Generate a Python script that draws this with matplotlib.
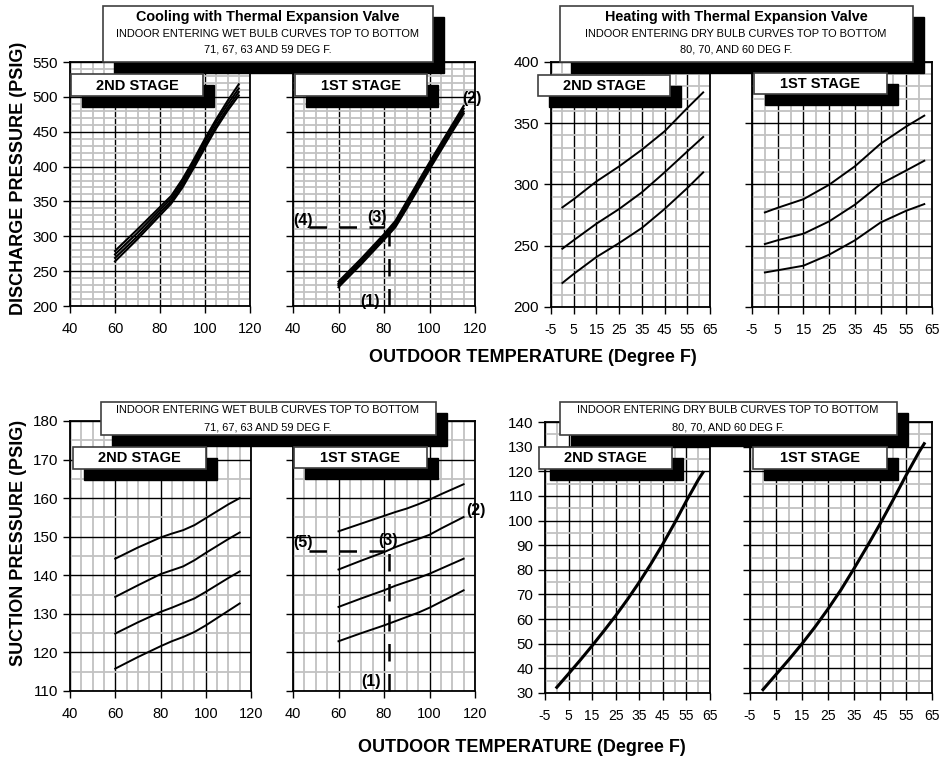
import numpy as np
import matplotlib
matplotlib.use("Agg")
import matplotlib.pyplot as plt
from matplotlib.patches import Rectangle

W, H = 940, 760

# outdoor temperature points (deg F)
cool_x = [60, 70, 80, 85, 90, 95, 100, 105, 110, 115]
heat_x = [0, 5, 15, 25, 35, 45, 55, 62]
heat_suc_x = [0, 5, 10, 15, 20, 25, 30, 35, 40, 45, 50, 55, 60, 62]

# cooling discharge pressure, wet bulb 71 / 67 / 63 / 59 (top to bottom)
cool_dis_2nd = [
    [279, 310, 342, 358, 382, 410, 440, 468, 494, 518],
    [274, 305, 338, 354, 378, 406, 436, 464, 489, 512],
    [269, 300, 334, 350, 374, 402, 431, 459, 484, 507],
    [264, 296, 330, 347, 370, 398, 427, 455, 480, 502],
]
cool_dis_1st = [
    [235, 268, 303, 322, 350, 378, 406, 433, 460, 487],
    [232, 265, 300, 319, 347, 375, 403, 430, 457, 483],
    [230, 263, 298, 316, 343, 371, 399, 426, 453, 479],
    [227, 260, 295, 313, 340, 368, 396, 423, 450, 476],
]

# cooling suction pressure
cool_suc_2nd = [
    [144.3, 147.2, 149.8, 150.8, 151.7, 153.0, 154.8, 156.6, 158.4, 160.0],
    [134.4, 137.4, 140.3, 141.3, 142.3, 143.9, 145.8, 147.6, 149.4, 151.1],
    [124.9, 127.8, 130.5, 131.6, 132.8, 134.0, 135.7, 137.5, 139.3, 141.0],
    [115.8, 118.8, 121.6, 122.9, 124.0, 125.3, 127.0, 128.9, 130.8, 132.7],
]
cool_suc_1st = [
    [151.4, 153.4, 155.4, 156.4, 157.3, 158.4, 159.6, 161.0, 162.3, 163.6],
    [141.5, 143.8, 146.0, 147.3, 148.4, 149.4, 150.5, 152.1, 153.6, 155.1],
    [131.8, 134.0, 136.1, 137.3, 138.3, 139.3, 140.4, 141.7, 143.0, 144.3],
    [122.9, 125.0, 127.0, 128.1, 129.2, 130.3, 131.6, 133.1, 134.6, 136.1],
]

# heating discharge pressure, dry bulb 80 / 70 / 60
heat_dis_2nd = [
    [281.3, 288.0, 302.5, 314.8, 328.4, 343.4, 362.4, 375.2],
    [247.6, 254.5, 268.0, 280.0, 293.6, 309.9, 327.0, 338.8],
    [219.6, 227.0, 240.8, 252.2, 264.5, 280.0, 297.1, 309.9],
]
heat_dis_1st = [
    [277.2, 281.0, 288.0, 299.8, 314.8, 333.3, 347.4, 356.2],
    [251.4, 254.5, 259.8, 269.9, 283.5, 300.4, 311.5, 319.4],
    [228.2, 230.0, 233.7, 242.7, 254.4, 269.0, 278.6, 284.0],
]

# heating suction pressure
heat_suc_2nd = [32.3, 37.8, 43.4, 49.2, 55.2, 61.4, 68.0, 75.0, 82.5, 90.5, 99.0, 108.0, 116.5, 119.5]
heat_suc_1st = [31.4, 37.5, 43.6, 50.0, 56.8, 64.1, 71.9, 80.5, 89.4, 98.6, 108.3, 118.3, 127.8, 131.2]

plt.rcParams['font.family'] = ['Liberation Sans', 'DejaVu Sans']
plt.rcParams['axes.unicode_minus'] = False

fig = plt.figure(figsize=(9.4, 7.6), dpi=100)


def px_rect(x0, y0, x1, y1):
    return [x0 / W, 1 - y1 / H, (x1 - x0) / W, (y1 - y0) / H]


def make_ax(rect, xlim, ylim, xmaj, xmin, ymaj, ymin, show_y, xsize):
    ax = fig.add_axes(px_rect(*rect))
    ax.set_xlim(xlim)
    ax.set_ylim(ylim)
    ax.set_xticks(xmaj)
    ax.set_xticks(xmin, minor=True)
    ax.set_yticks(ymaj)
    ax.set_yticks(ymin, minor=True)
    ax.grid(which='minor', color='#c2c2c2', lw=1.3)
    ax.grid(which='major', color='black', lw=1.0)
    ax.tick_params(which='major', direction='out', length=5, width=1)
    ax.tick_params(axis='x', labelsize=xsize, pad=6.5)
    ax.tick_params(axis='y', labelsize=11, pad=3.5)
    ax.tick_params(which='minor', length=0)
    if not show_y:
        ax.tick_params(axis='y', labelleft=False)
    for s in ax.spines.values():
        s.set_linewidth(1.3)
    ax.set_axisbelow(True)
    return ax


cool_xt = np.arange(40, 121, 20)
cool_xm = np.arange(40, 121, 5)
heat_xt = np.arange(-5, 66, 10)
heat_xm = np.arange(-5, 66, 5)

axA = make_ax((70, 62, 250, 306), (40, 120), (200, 550), cool_xt, cool_xm,
              np.arange(200, 551, 50), np.arange(200, 551, 10), True, 10.5)
axB = make_ax((293, 62, 475, 306), (40, 120), (200, 550), cool_xt, cool_xm,
              np.arange(200, 551, 50), np.arange(200, 551, 10), False, 10.5)
axC = make_ax((551, 62, 710, 307), (-5, 65), (200, 400), heat_xt, heat_xm,
              np.arange(200, 401, 50), np.arange(200, 401, 10), True, 10)
axD = make_ax((752, 62, 932, 307), (-5, 65), (200, 400), heat_xt, heat_xm,
              np.arange(200, 401, 50), np.arange(200, 401, 10), False, 10)
axE = make_ax((70, 421, 251, 691), (40, 120), (110, 180), cool_xt, cool_xm,
              np.arange(110, 181, 10), np.arange(110, 181, 5), True, 10.5)
axF = make_ax((293, 421, 475, 691), (40, 120), (110, 180), cool_xt, cool_xm,
              np.arange(110, 181, 10), np.arange(110, 181, 5), False, 10.5)
axG = make_ax((545, 422, 710, 693), (-5, 65), (30, 140), heat_xt, heat_xm,
              np.arange(30, 141, 10), np.arange(30, 141, 5), True, 10)
axH = make_ax((750, 422, 932, 693), (-5, 65), (30, 140), heat_xt, heat_xm,
              np.arange(30, 141, 10), np.arange(30, 141, 5), False, 10)

# curves
for ys in cool_dis_2nd:
    axA.plot(cool_x, ys, color='black', lw=1.5)
for ys in cool_dis_1st:
    axB.plot(cool_x, ys, color='black', lw=1.5)
for ys in cool_suc_2nd:
    axE.plot(cool_x, ys, color='black', lw=1.4)
for ys in cool_suc_1st:
    axF.plot(cool_x, ys, color='black', lw=1.4)
for ys in heat_dis_2nd:
    axC.plot(heat_x, ys, color='black', lw=1.4)
for ys in heat_dis_1st:
    axD.plot(heat_x, ys, color='black', lw=1.4)
axG.plot(heat_suc_x, heat_suc_2nd, color='black', lw=2.2)
axH.plot(heat_suc_x, heat_suc_1st, color='black', lw=2.2)

# worked example lines
dash = dict(color='black', lw=1.8, dashes=(7, 5), clip_on=False)
axB.plot([47, 80], [313, 313], **dash)
axB.plot([82, 82], [200, 305], **dash)
axF.plot([47, 80], [146.4, 146.4], **dash)
axF.plot([82, 82], [110, 146.4], **dash)

lab_kw = dict(fontsize=11.5, fontweight='bold', ha='center', va='center', clip_on=False)
axB.text(44.4, 323, '(4)', **lab_kw)
axB.text(77, 327, '(3)', **lab_kw)
axB.text(73.8, 206, '(1)', **lab_kw)
axB.text(118.5, 498, '(2)', **lab_kw)
axF.text(44.4, 148.4, '(5)', **lab_kw)
axF.text(81.8, 148.9, '(3)', **lab_kw)
axF.text(74.3, 112.4, '(1)', **lab_kw)
axF.text(120.4, 156.9, '(2)', **lab_kw)


def box(x0, y0, x1, y1, off=11):
    fig.add_artist(Rectangle(((x0 + off) / W, 1 - (y1 + off) / H), (x1 - x0) / W, (y1 - y0) / H,
                             transform=fig.transFigure, facecolor='black', edgecolor='black', zorder=5))
    fig.add_artist(Rectangle((x0 / W, 1 - y1 / H), (x1 - x0) / W, (y1 - y0) / H,
                             transform=fig.transFigure, facecolor='white', edgecolor='#404040',
                             lw=1.2, zorder=6))


def ftext(x, y, s, **kw):
    fig.text(x / W, 1 - y / H, s, ha='center', va='center', zorder=7, **kw)


# title / note boxes
box(103, 6, 433, 62)
ftext(268, 17, 'Cooling with Thermal Expansion Valve', fontsize=10.4, fontweight='bold')
ftext(268, 34, 'INDOOR ENTERING WET BULB CURVES TOP TO BOTTOM', fontsize=7.9)
ftext(268, 50, '71, 67, 63 AND 59 DEG F.', fontsize=7.9)

box(560, 6, 913, 62)
ftext(736, 17, 'Heating with Thermal Expansion Valve', fontsize=10.4, fontweight='bold')
ftext(736, 34, 'INDOOR ENTERING DRY BULB CURVES TOP TO BOTTOM', fontsize=7.9)
ftext(736, 50, '80, 70, AND 60 DEG F.', fontsize=7.9)

box(101, 402, 436, 435)
ftext(268, 410, 'INDOOR ENTERING WET BULB CURVES TOP TO BOTTOM', fontsize=7.9)
ftext(268, 427, '71, 67, 63 AND 59 DEG F.', fontsize=7.9)

box(560, 402, 897, 435)
ftext(728, 410, 'INDOOR ENTERING DRY BULB CURVES TOP TO BOTTOM', fontsize=7.9)
ftext(728, 427, '80, 70, AND 60 DEG F.', fontsize=7.9)

# stage boxes
stages = [
    (71, 74, 203, 96, '2ND STAGE'), (295, 74, 427, 96, '1ST STAGE'),
    (538, 75, 670, 96, '2ND STAGE'), (754, 73, 887, 94, '1ST STAGE'),
    (73, 447, 206, 469, '2ND STAGE'), (294, 447, 427, 468, '1ST STAGE'),
    (539, 447, 672, 469, '2ND STAGE'), (753, 447, 887, 469, '1ST STAGE'),
]
for x0, y0, x1, y1, s in stages:
    box(x0, y0, x1, y1)
    ftext((x0 + x1) / 2, (y0 + y1) / 2 + 0.5, s, fontsize=10.5, fontweight='bold')

# axis titles
ftext(19, 178, 'DISCHARGE PRESSURE (PSIG)', fontsize=13, fontweight='bold', rotation=90)
ftext(19, 543, 'SUCTION PRESSURE (PSIG)', fontsize=13, fontweight='bold', rotation=90)
ftext(533, 357, 'OUTDOOR TEMPERATURE (Degree F)', fontsize=13, fontweight='bold')
ftext(522, 747, 'OUTDOOR TEMPERATURE (Degree F)', fontsize=13, fontweight='bold')

fig.savefig('out.png', dpi=100)
